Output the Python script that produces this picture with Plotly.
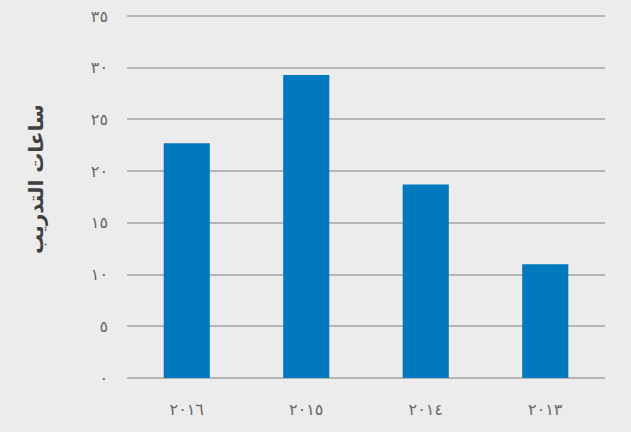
import plotly.graph_objects as go

categories = ["٢٠١٦", "٢٠١٥", "٢٠١٤", "٢٠١٣"]
hours = [22.7, 29.3, 18.7, 11.0]
tick_values = [0, 5, 10, 15, 20, 25, 30, 35]
tick_labels = ["٠", "٥", "١٠", "١٥", "٢٠", "٢٥", "٣٠", "٣٥"]
y_title = "ساعات التدريب"

fig = go.Figure(go.Bar(
    x=categories, y=hours,
    marker=dict(color="#0079bf", line=dict(width=0)),
))

fig.update_layout(
    width=631, height=432,
    paper_bgcolor="#ececec", plot_bgcolor="#ececec",
    margin=dict(l=127, r=26, t=15, b=53, autoexpand=False),
    bargap=0.614,
    showlegend=False,
    font=dict(family="DejaVu Sans", color="#666666", size=16),
)
fig.update_xaxes(
    showgrid=False, zeroline=False, showline=False, ticks="",
    tickfont=dict(size=16, color="#666666"), ticklabelstandoff=19,
)
fig.update_yaxes(
    range=[-0.1, 35.1], tickvals=tick_values, ticktext=tick_labels,
    showgrid=True, gridcolor="#b5b5b5", gridwidth=2,
    zeroline=False, showline=False, ticks="",
    tickfont=dict(size=16, color="#666666"), ticklabelstandoff=18,
)
fig.add_annotation(
    text="<b>" + y_title + "</b>", xref="paper", yref="paper",
    x=-0.19, y=0.55, xanchor="center", yanchor="middle",
    textangle=-90, showarrow=False,
    font=dict(size=20, color="#404040", family="DejaVu Sans"),
)

fig.write_html(
    "out.html",
    config={"displayModeBar": False},
    post_script="document.body.style.margin='0';document.body.style.background='#ececec';",
)
